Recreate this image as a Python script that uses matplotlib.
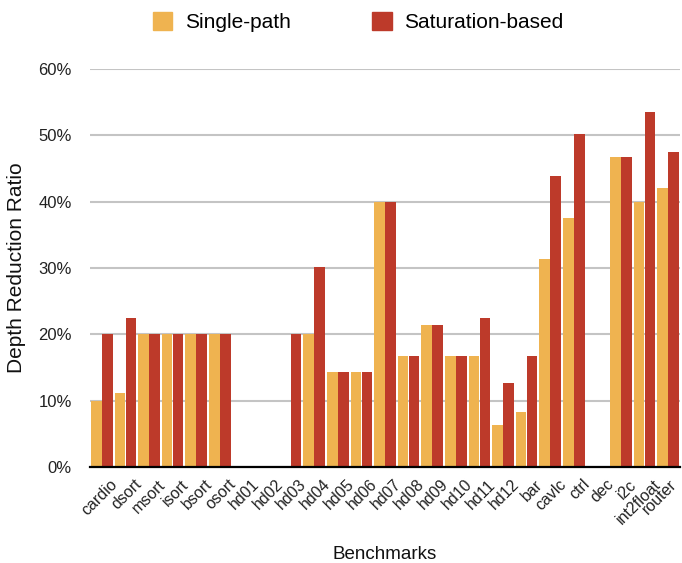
import numpy as np
import matplotlib
matplotlib.use('Agg')
import matplotlib.pyplot as plt
from matplotlib.patches import Patch

plt.rcParams['font.family'] = ['Liberation Sans', 'DejaVu Sans']

benchmarks = ['cardio', 'dsort', 'msort', 'isort', 'bsort', 'osort', 'hd01', 'hd02',
              'hd03', 'hd04', 'hd05', 'hd06', 'hd07', 'hd08', 'hd09', 'hd10', 'hd11',
              'hd12', 'bar', 'cavlc', 'ctrl', 'dec', 'i2c', 'int2float', 'router']
single_path = [10.0, 11.1, 20.0, 20.0, 20.0, 20.0, 0, 0,
               0, 20.0, 14.3, 14.3, 40.0, 16.7, 21.4, 16.7, 16.7,
               6.3, 8.3, 31.3, 37.6, 0, 46.7, 40.0, 42.0]
saturation = [20.0, 22.4, 20.0, 20.0, 20.0, 20.0, 0, 0,
              20.0, 30.1, 14.3, 14.3, 40.0, 16.7, 21.4, 16.7, 22.4,
              12.6, 16.7, 43.8, 50.2, 0, 46.7, 53.5, 47.5]
yticks = [0, 10, 20, 30, 40, 50, 60]

c_single = '#EFB350'
c_sat = '#BD3A2A'

fig = plt.figure(figsize=(6.82, 5.63), dpi=100)
ax = fig.add_axes([0.132, 0.1705, 0.865, 0.707])

x = np.arange(len(benchmarks))
w = 0.45
ax.bar(x - 0.235, single_path, width=w, color=c_single, zorder=3)
ax.bar(x + 0.235, saturation, width=w, color=c_sat, zorder=3)

ax.set_xlim(-0.5, len(benchmarks) - 0.5)
ax.set_ylim(0, 60)
ax.set_yticks(yticks)
ax.set_yticklabels([f'{t}%' for t in yticks], fontsize=12, color='#222222')
ax.yaxis.grid(True, color='#c4c4c4', linewidth=1.5, zorder=0)
ax.tick_params(axis='both', length=0)
ax.tick_params(axis='y', pad=13)

# labels sit a bit right of the group centre; last one pulled in so it fits
tick_pos = x + 0.35
tick_pos[-1] = x[-1] + 0.05
ax.set_xticks(tick_pos)
ax.set_xticklabels(benchmarks, rotation=45, ha='right', va='top',
                   rotation_mode='anchor', fontsize=11.5, color='#222222')
ax.tick_params(axis='x', pad=7)

for s in ['top', 'right', 'left']:
    ax.spines[s].set_visible(False)
ax.spines['bottom'].set_linewidth(1.6)
ax.spines['bottom'].set_color('black')
ax.spines['bottom'].set_zorder(4)

ax.set_ylabel('Depth Reduction Ratio', fontsize=15, labelpad=9, color='#111111')
ax.set_xlabel('Benchmarks', fontsize=13.5, labelpad=14, color='#111111')

handles = [Patch(color=c_single, label='Single-path'),
           Patch(color=c_sat, label='Saturation-based')]
fig.legend(handles=handles, loc='center', bbox_to_anchor=(0.525, 1 - 22 / 563), ncol=2,
           frameon=False, fontsize=15, handlelength=0.95, handleheight=0.95,
           columnspacing=3.9, handletextpad=0.6, borderpad=0)

fig.savefig('out.png', dpi=100)
